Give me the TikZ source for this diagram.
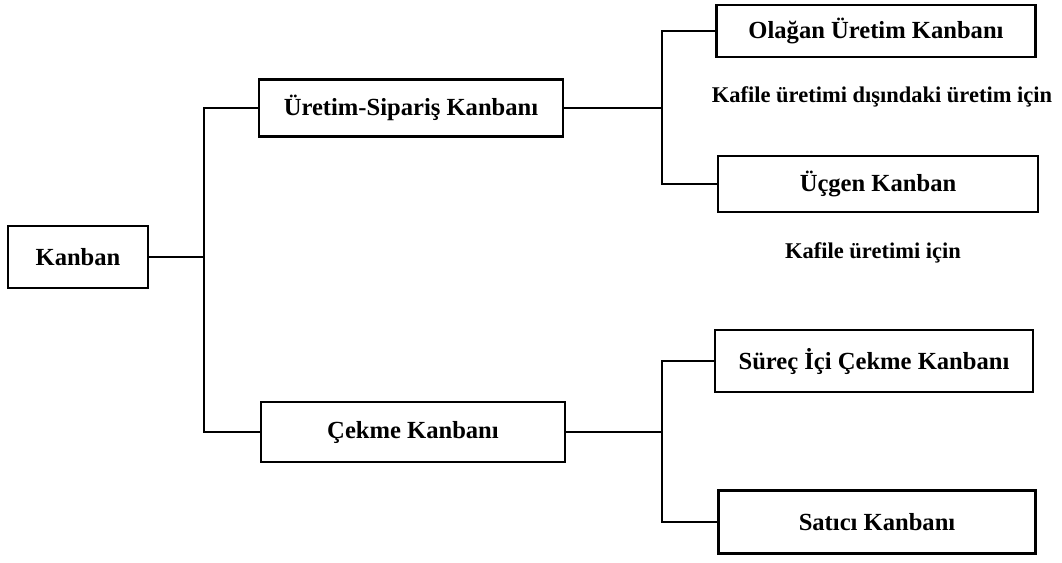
\documentclass[tikz,border=0pt]{standalone}
\usepackage{fontspec}
\setmainfont{Liberation Serif}
\begin{document}
\begin{tikzpicture}[x=0.02cm,y=-0.02cm,line width=1.6pt,
        kart/.style={draw,rectangle,inner sep=0pt,font=\fontsize{14}{16}\selectfont\bfseries},
        aciklama/.style={font=\fontsize{12.8}{15}\selectfont\bfseries}]
    \useasboundingbox (0,0) rectangle (1062,562);
    % ana kart
    \node[kart,minimum width=2.8cm,minimum height=1.24cm] (kanban) at (78,257) {Kanban};
    \node[kart,minimum width=6.08cm,minimum height=1.14cm] (uretim) at (411,108) {Üretim-Sipariş Kanbanı};
    \node[kart,minimum width=6.08cm,minimum height=1.2cm] (cekme) at (413,432) {Çekme Kanbanı};
    % alt kartlar
    \node[kart,minimum width=6.38cm,minimum height=1.04cm] (olagan) at (876,31) {Olağan Üretim Kanbanı};
    \node[kart,minimum width=6.4cm,minimum height=1.12cm] (ucgen) at (878,184) {Üçgen Kanban};
    \node[kart,minimum width=6.36cm,minimum height=1.24cm] (surec) at (874,361) {Süreç İçi Çekme Kanbanı};
    \node[kart,minimum width=6.34cm,minimum height=1.26cm] (satici) at (877,522) {Satıcı Kanbanı};
    \node[aciklama] (not1) at (882,97) {Kafile üretimi dışındaki üretim için};
    \node[aciklama] (not2) at (873,253) {Kafile üretimi için};
    % baglantilar
    \coordinate (s1) at (204,257);
    \coordinate (s2) at (662,108);
    \coordinate (s3) at (662,432);
    \draw (kanban.east) -- (s1);
    \draw (uretim.west) -| (s1) |- (cekme.west);
    \draw (uretim.east) -- (s2);
    \draw (olagan.west) -| (s2) |- (ucgen.west);
    \draw (cekme.east) -- (s3);
    \draw (surec.west) -| (s3) |- (satici.west);
\end{tikzpicture}
\end{document}
